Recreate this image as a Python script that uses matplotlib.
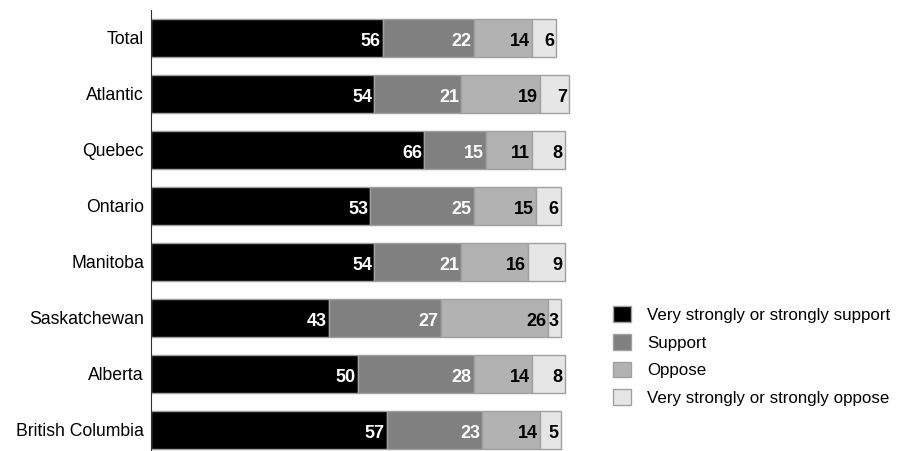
import matplotlib
matplotlib.use("Agg")
import matplotlib.pyplot as plt
import numpy as np

plt.rcParams['font.family'] = ['Liberation Sans', 'DejaVu Sans']

regions = ['Total', 'Atlantic', 'Quebec', 'Ontario', 'Manitoba',
           'Saskatchewan', 'Alberta', 'British Columbia']
strong_support = [56, 54, 66, 53, 54, 43, 50, 57]
support = [22, 21, 15, 25, 21, 27, 28, 23]
oppose = [14, 19, 11, 15, 16, 26, 14, 14]
strong_oppose = [6, 7, 8, 6, 9, 3, 8, 5]
series_names = ['Very strongly or strongly support', 'Support', 'Oppose',
                'Very strongly or strongly oppose']

colors = ['#000000', '#808080', '#b2b2b2', '#e6e6e6']
text_colors = ['white', 'white', 'black', 'black']

fig = plt.figure(figsize=(9.03, 4.51), dpi=100)
ax = fig.add_axes([151 / 903, 0, 451 / 903, 441 / 451])

y = np.arange(len(regions))
left = np.zeros(len(regions))
handles = []
for vals, c, tc, name in zip([strong_support, support, oppose, strong_oppose],
                             colors, text_colors, series_names):
    vals = np.array(vals, dtype=float)
    bars = ax.barh(y, vals, left=left, height=0.68, color=c,
                   edgecolor='#a0a0a0', linewidth=1, label=name)
    handles.append(bars)
    for yi, l, v in zip(y, left, vals):
        ax.text(l + v - 0.5, yi + 0.06, f'{int(v)}', ha='right', va='center',
                color=tc, fontsize=13, fontweight='bold')
    left += vals

ax.set_xlim(0, 109)
ax.set_ylim(7.375, -0.5)
ax.set_yticks(y)
ax.set_yticklabels(regions, fontsize=12.7)
ax.tick_params(axis='y', length=0, pad=5)
ax.set_xticks([])
for s in ['top', 'right', 'bottom']:
    ax.spines[s].set_visible(False)
ax.spines['left'].set_color('#333333')

leg = fig.legend(handles=handles, loc='upper left',
                 bbox_to_anchor=(598 / 903, 1 - 291 / 451), frameon=False,
                 fontsize=12.2, handlelength=1.05, handleheight=1.05,
                 handletextpad=0.95, labelspacing=0.65)

fig.savefig('out.png', dpi=100)
